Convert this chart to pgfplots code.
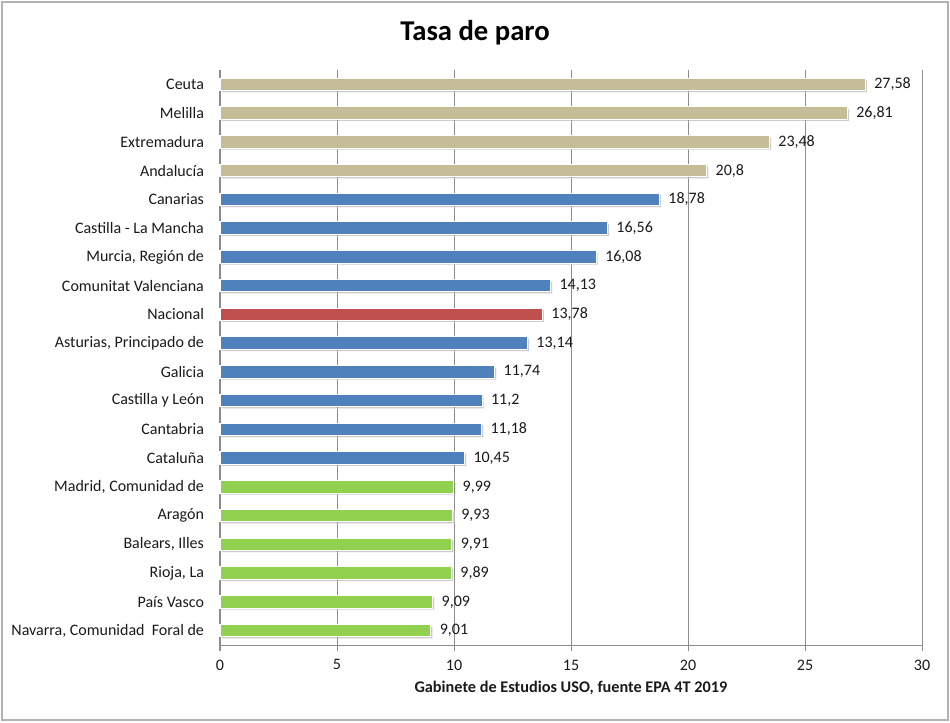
\documentclass[border=0pt]{standalone}
\usepackage{pgfplots}
\pgfplotsset{compat=1.18}
\usepackage{fontspec}
\setmainfont{Carlito}
\usetikzlibrary{shadows}

\definecolor{tan}{HTML}{C4BD97}
\definecolor{azul}{HTML}{4F81BD}
\definecolor{rojo}{HTML}{C0504D}
\definecolor{verde}{HTML}{92D050}
\definecolor{rejilla}{HTML}{8C8C8C}
\definecolor{texto}{HTML}{1A1A1A}

\begin{document}
\begin{tikzpicture}
  % frame of the whole chart (950 x 722 px, 1 px = 0.75pt)
  \useasboundingbox (0pt,0pt) rectangle (712.5pt,541.5pt);
  \draw[line width=1.5pt, gray!60] (1.5pt,1.5pt) rectangle (711pt,540pt);
  \node[font=\fontsize{21.5}{25}\selectfont\bfseries, text=black] at (356.25pt,517pt) {Tasa de paro};

  \begin{axis}[at={(165pt,57.75pt)}, anchor=south west,
               scale only axis,
               width=526.5pt, height=431.25pt,
               xmin=0, xmax=30,
               ymin=-0.5, ymax=19.5,
               xtick={0,5,...,30},
               ytick={0,...,19},
               yticklabels={{Navarra, Comunidad\hspace{0.45em}Foral de}, País Vasco, {Rioja, La},
                 {Balears, Illes}, Aragón, {Madrid, Comunidad de}, Cataluña, Cantabria,
                 Castilla y León, Galicia, {Asturias, Principado de}, Nacional,
                 Comunitat Valenciana, {Murcia, Región de}, Castilla - La Mancha,
                 Canarias, Andalucía, Extremadura, Melilla, Ceuta},
               axis lines*=left,
               axis line style={draw=rejilla, line width=0.75pt, -},
               xmajorgrids,
               major grid style={draw=rejilla, line width=0.75pt},
               ytick style={draw=none},
               xtick style={draw=rejilla, line width=0.75pt},
               tick align=outside,
               major tick length=4.5pt,
               tick label style={font=\fontsize{12}{14}\selectfont, text=texto},
               /pgf/number format/assume math mode=true,
               /pgf/number format/use comma,
               xticklabel style={yshift=-3pt},
               yticklabel style={xshift=-4pt},
               xlabel={Gabinete de Estudios USO, fuente EPA 4T 2019},
               xlabel style={font=\fontsize{12.2}{14}\selectfont\bfseries, text=texto, yshift=-1pt},
               xbar, bar width=9.5pt, bar shift=0pt,
               nodes near coords,
               point meta=x,
               every node near coord/.append style={font=\fontsize{12}{14}\selectfont,
                 text=texto, anchor=west, xshift=3pt},
               clip=false]
    \addplot[fill=tan, draw=white, line width=0.8pt,
             drop shadow={shadow xshift=1.3pt, shadow yshift=-1.3pt, opacity=0.4}]
      coordinates {(27.58,19) (26.81,18) (23.48,17) (20.8,16)};
    \addplot[fill=azul, draw=white, line width=0.8pt,
             drop shadow={shadow xshift=1.3pt, shadow yshift=-1.3pt, opacity=0.4}]
      coordinates {(18.78,15) (16.56,14) (16.08,13) (14.13,12) (13.14,10)
                   (11.74,9) (11.2,8) (11.18,7) (10.45,6)};
    \addplot[fill=rojo, draw=white, line width=0.8pt,
             drop shadow={shadow xshift=1.3pt, shadow yshift=-1.3pt, opacity=0.4}]
      coordinates {(13.78,11)};
    \addplot[fill=verde, draw=white, line width=0.8pt,
             drop shadow={shadow xshift=1.3pt, shadow yshift=-1.3pt, opacity=0.4}]
      coordinates {(9.99,5) (9.93,4) (9.91,3) (9.89,2) (9.09,1) (9.01,0)};
  \end{axis}
\end{tikzpicture}
\end{document}
